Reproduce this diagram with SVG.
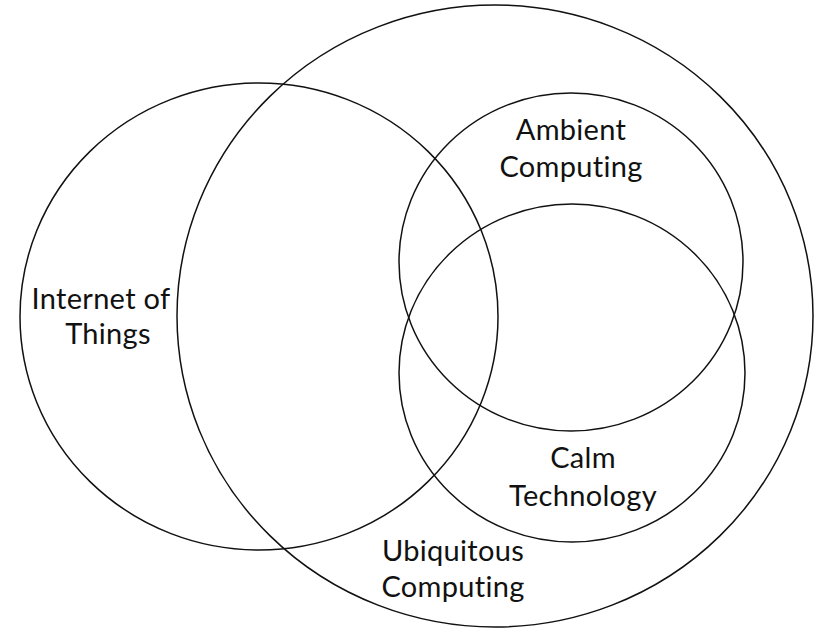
<svg xmlns="http://www.w3.org/2000/svg" width="818" height="629" viewBox="0 0 818 629">
<style>
.c{fill:none;stroke:#111;stroke-width:1.5}
.t{font-family:Lato,"Open Sans",sans-serif;font-size:29px;fill:#111;text-anchor:middle;font-variant-ligatures:none;font-feature-settings:"liga" 0;letter-spacing:0.3px}
</style>
<rect width="818" height="629" fill="#fff"/>
<g id="ubiquitous"><ellipse class="c" cx="495" cy="316" rx="318" ry="311"/><text class="t" x="453" y="561">Ubiquitous</text><text class="t" x="453" y="597">Computing</text></g>
<g id="iot"><ellipse class="c" cx="259" cy="316.5" rx="239" ry="233.5"/><text class="t" x="101" y="309">Internet of</text><text class="t" x="108" y="344">Things</text></g>
<g id="ambient"><ellipse class="c" cx="571" cy="262" rx="172" ry="169"/><text class="t" x="571" y="140">Ambient</text><text class="t" x="571" y="177">Computing</text></g>
<g id="calm"><ellipse class="c" cx="572" cy="373" rx="173" ry="169"/><text class="t" x="583" y="468">Calm</text><text class="t" x="583" y="506">Technology</text></g>
<g id="connectors"/>
</svg>
